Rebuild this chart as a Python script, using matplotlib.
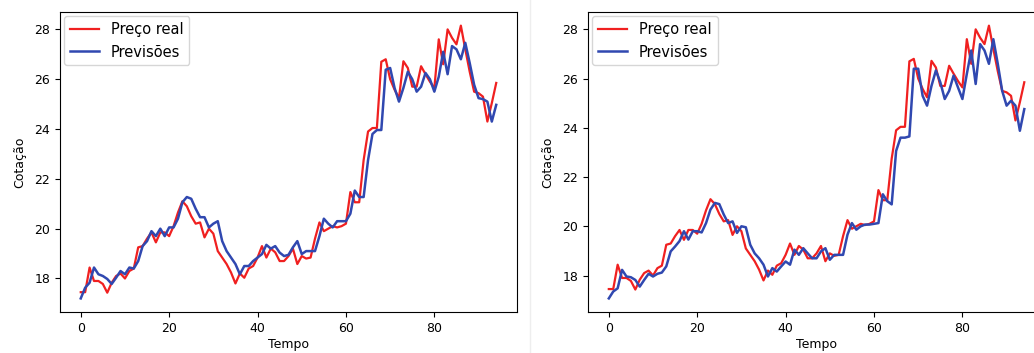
import matplotlib
matplotlib.use("Agg")
import matplotlib.pyplot as plt
from matplotlib.lines import Line2D

# real closing price (same series in both panels)
preco_real = [17.45, 17.45, 18.44, 17.9, 17.9, 17.78, 17.43, 17.83, 18.1, 18.2,
              18.0, 18.3, 18.4, 19.25, 19.3, 19.6, 19.85, 19.45, 19.85, 19.85,
              19.7, 20.1, 20.65, 21.1, 20.9, 20.5, 20.2, 20.25, 19.65, 20.0,
              19.8, 19.1, 18.84, 18.58, 18.24, 17.8, 18.2, 18.03, 18.4, 18.5,
              18.84, 19.3, 18.84, 19.2, 19.05, 18.7, 18.7, 18.9, 19.2, 18.58,
              18.9, 18.8, 18.84, 19.6, 20.25, 19.9, 20.0, 20.1, 20.05, 20.1,
              20.2, 21.47, 21.06, 21.06, 22.75, 23.9, 24.04, 24.04, 26.7, 26.8,
              26.0, 25.58, 25.24, 26.72, 26.45, 25.7, 25.7, 26.52, 26.2, 25.9,
              25.64, 27.6, 26.6, 28.0, 27.66, 27.4, 28.15, 27.2, 26.3, 25.5,
              25.44, 25.3, 24.3, 25.04, 25.85]

# predictions, first model (left panel)
previsoes_1 = [17.2, 17.63, 17.83, 18.44, 18.17, 18.1, 17.98, 17.78, 18.03, 18.3,
               18.17, 18.44, 18.4, 18.7, 19.3, 19.5, 19.9, 19.7, 20.0, 19.7,
               20.05, 20.05, 20.4, 21.06, 21.27, 21.2, 20.8, 20.46, 20.46, 20.05,
               20.2, 20.3, 19.5, 19.1, 18.84, 18.58, 18.17, 18.5, 18.5, 18.7,
               18.84, 18.98, 19.35, 19.2, 19.3, 19.04, 18.9, 18.95, 19.25, 19.5,
               18.98, 19.1, 19.1, 19.1, 19.7, 20.4, 20.2, 20.05, 20.3, 20.3,
               20.3, 20.6, 21.53, 21.27, 21.27, 22.75, 23.8, 23.96, 23.96, 26.38,
               26.45, 25.65, 25.1, 25.65, 26.3, 26.0, 25.5, 25.7, 26.25, 26.0,
               25.5, 26.1, 27.1, 26.2, 27.33, 27.2, 26.8, 27.46, 26.65, 25.78,
               25.24, 25.2, 25.1, 24.3, 24.97]

# predictions, second model (right panel)
previsoes_2 = [17.07, 17.35, 17.48, 18.23, 17.96, 17.93, 17.82, 17.55, 17.82, 18.07,
               17.96, 18.07, 18.12, 18.37, 18.98, 19.18, 19.4, 19.8, 19.46, 19.8,
               19.8, 19.75, 20.13, 20.68, 20.95, 20.9, 20.48, 20.13, 20.2, 19.73,
               20.0, 19.96, 19.25, 18.9, 18.7, 18.44, 17.96, 18.3, 18.16, 18.37,
               18.57, 18.44, 19.05, 18.84, 19.11, 18.9, 18.7, 18.7, 18.98, 19.11,
               18.64, 18.84, 18.84, 18.84, 19.66, 20.13, 19.86, 20.0, 20.07, 20.07,
               20.1, 20.13, 21.3, 21.02, 20.89, 23.06, 23.6, 23.6, 23.65, 26.4,
               26.4, 25.3, 24.9, 25.7, 26.33, 25.85, 25.17, 25.5, 26.12, 25.64,
               25.17, 26.19, 27.14, 25.78, 27.4, 27.14, 26.6, 27.6, 26.6, 25.5,
               24.9, 25.1, 24.9, 23.88, 24.76]

tempo = list(range(len(preco_real)))

plt.rcParams['font.family'] = ['DejaVu Sans']
plt.rcParams['font.size'] = 9

fig = plt.figure(figsize=(10.34, 3.53), dpi=100)
ax1 = fig.add_axes([0.058, 0.116, 0.442, 0.85])
ax2 = fig.add_axes([0.5687, 0.116, 0.442, 0.85])

for ax, prev in [(ax1, previsoes_1), (ax2, previsoes_2)]:
    ax.plot(tempo, preco_real, color='#f02020', lw=1.6, label='Preço real')
    ax.plot(tempo, prev, color='#3048b0', lw=1.8, label='Previsões')
    ax.set_xlabel('Tempo', labelpad=2)
    ax.set_ylabel('Cotação', labelpad=6)
    ax.set_yticks([18, 20, 22, 24, 26, 28])
    ax.set_xticks([0, 20, 40, 60, 80])
    ax.legend(loc='upper left', fontsize=10.5, borderaxespad=0.3)

# thin seam between the two screenshots
fig.add_artist(Line2D([0.513, 0.513], [0, 1], color='#eeeeee', lw=1))

fig.savefig('out.png', dpi=100)
